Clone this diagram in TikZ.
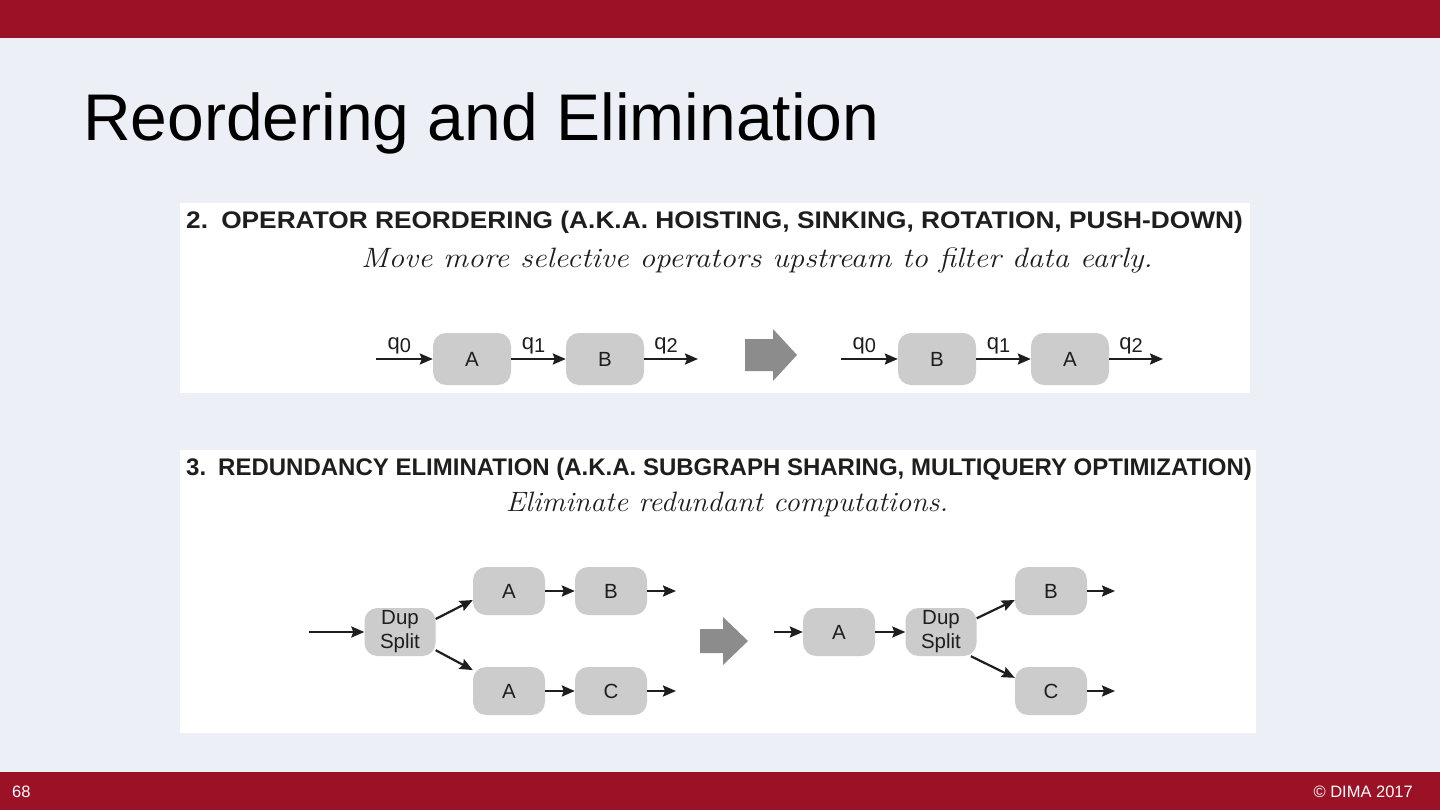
\documentclass[tikz,border=0pt]{standalone}
\usepackage{fontspec}
\usepackage{graphicx}
\setmainfont{Liberation Sans}
\newfontfamily\subtitlefont{Latin Modern Roman}
\usetikzlibrary{arrows.meta,positioning}
\definecolor{dimared}{RGB}{155,17,37}
\definecolor{slidebg}{RGB}{236,239,245}
\definecolor{opgray}{RGB}{204,204,204}
\definecolor{bigarrowgray}{RGB}{140,140,140}
\definecolor{inkblack}{RGB}{30,30,30}
\newcommand{\qsub}[1]{q\raisebox{-3pt}{\fontsize{20}{20}\selectfont #1}}
\tikzset{
  op/.style={fill=opgray, rounded corners=13pt, minimum width=78pt, minimum height=52pt,
    inner sep=0pt, text=inkblack, font=\fontsize{20.5}{24}\selectfont},
  smallop/.style={op, minimum width=72pt, minimum height=48pt, align=center},
  flow/.style={-{Stealth[length=13pt,width=11pt,inset=2pt]}, line width=2.2pt, inkblack},
  qlabel/.style={above=4pt, xshift=-5pt, inner sep=0pt, text=inkblack, font=\fontsize{22}{22}\selectfont},
  header/.style={anchor=base west, inner sep=0pt, text=inkblack, font=\bfseries\fontsize{24}{24}\selectfont},
  subtitle/.style={anchor=base, inner sep=0pt, text=inkblack, font=\subtitlefont\itshape\fontsize{28}{28}\selectfont},
  footer/.style={inner sep=0pt, text=white, font=\fontsize{16.5}{18}\selectfont}
}
\begin{document}
\begin{tikzpicture}[x=1pt,y=-1pt]
%slide background and bars
\fill[slidebg] (0,0) rectangle (1440,810);
\fill[dimared] (0,0) rectangle (1440,38);
\fill[dimared] (0,772) rectangle (1440,810);
\node[anchor=base west, inner sep=0pt, font=\fontsize{66}{70}\selectfont] (title) at (83,141) {Reordering and Elimination};
\node[footer, anchor=base west] (pagenum) at (12,797) {68};
\node[footer, anchor=base east] (copyright) at (1413,797) {\textcopyright{} DIMA 2017};
%panels
\fill[white] (180,203) rectangle (1250,393);
\fill[white] (180,450) rectangle (1256,733);
\node[header] (head2) at (186,229) {\scalebox{1.095}[1]{2.\hspace{12pt}OPERATOR REORDERING (A.K.A. HOISTING, SINKING, ROTATION, PUSH-DOWN)}};
\node[subtitle] (sub2) at (757,268) {\scalebox{1.115}[1]{Move more selective operators upstream to filter data early.}};
\node[header] (head3) at (186,475) {3.\hspace{12pt}REDUNDANCY ELIMINATION (A.K.A. SUBGRAPH SHARING, MULTIQUERY OPTIMIZATION)};
\node[subtitle] (sub3) at (727,511) {\scalebox{1.055}[1]{Eliminate redundant computations.}};
%reordering: before
\node[op] (ra1) at (472,359) {A};
\node[op] (rb1) at (605,359) {B};
\coordinate (rin1) at (376,359);
\coordinate (rout1) at (698,359);
\draw[flow] (rin1) -- node[qlabel] (rq0) {\qsub{0}} (ra1);
\draw[flow] (ra1) -- node[qlabel] (rq1) {\qsub{1}} (rb1);
\draw[flow] (rb1) -- node[qlabel] (rq2) {\qsub{2}} (rout1);
%big arrow
\fill[bigarrowgray] (745,339) -- (773,339) -- (773,329) -- (797,355) -- (773,381) -- (773,371) -- (745,371) -- cycle;
%reordering: after
\node[op] (rb2) at (937,359) {B};
\node[op] (ra2) at (1070,359) {A};
\coordinate (rin2) at (841,359);
\coordinate (rout2) at (1163,359);
\draw[flow] (rin2) -- node[qlabel] (sq0) {\qsub{0}} (rb2);
\draw[flow] (rb2) -- node[qlabel] (sq1) {\qsub{1}} (ra2);
\draw[flow] (ra2) -- node[qlabel] (sq2) {\qsub{2}} (rout2);
%elimination: before
\node[smallop, minimum width=71pt] (dup1) at (400,632) {Dup\\Split};
\node[smallop] (ea1) at (509,591) {A};
\node[smallop] (eb1) at (611,591) {B};
\node[smallop] (ea2) at (509,691) {A};
\node[smallop] (ec1) at (611,691) {C};
\coordinate (ein1) at (309,632);
\coordinate (eoutb1) at (676,591);
\coordinate (eoutc1) at (676,691);
\draw[flow] (ein1) -- (dup1);
\draw[flow] (dup1.20) -- (ea1.194);
\draw[flow] (dup1.-27) -- (ea2.150);
\draw[flow] (ea1) -- (eb1);
\draw[flow] (ea2) -- (ec1);
\draw[flow] (eb1) -- (eoutb1);
\draw[flow] (ec1) -- (eoutc1);
%big arrow
\fill[bigarrowgray] (700,629) -- (723,629) -- (723,617) -- (748,641) -- (723,665) -- (723,653) -- (700,653) -- cycle;
%elimination: after
\node[smallop] (ea3) at (839,632) {A};
\node[smallop, minimum width=71pt] (dup2) at (941,632) {Dup\\Split};
\node[smallop] (eb2) at (1051,591) {B};
\node[smallop] (ec2) at (1051,691) {C};
\coordinate (ein2) at (774,632);
\coordinate (eoutb2) at (1115,591);
\coordinate (eoutc2) at (1115,691);
\draw[flow] (ein2) -- (ea3);
\draw[flow] (ea3) -- (dup2);
\draw[flow] (dup2.21) -- (eb2.194);
\draw[flow] (dup2.-39) -- (ec2.160);
\draw[flow] (eb2) -- (eoutb2);
\draw[flow] (ec2) -- (eoutc2);
\end{tikzpicture}
\end{document}
